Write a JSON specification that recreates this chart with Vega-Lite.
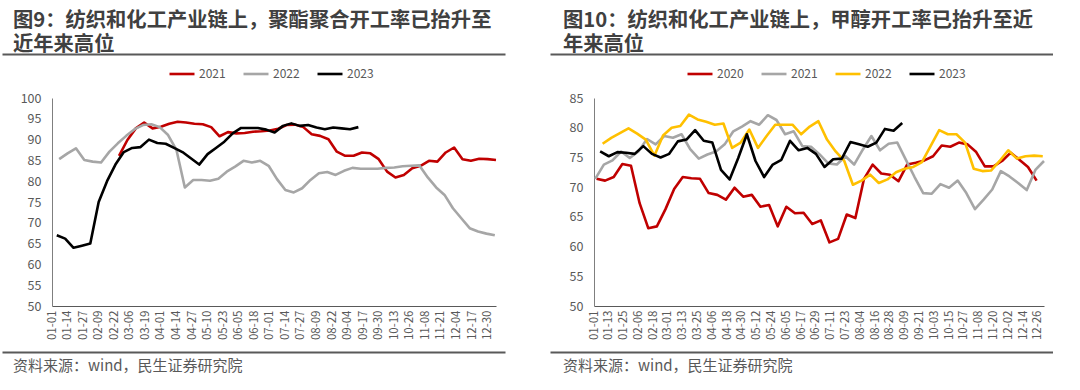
{
"$schema": "https://vega.github.io/schema/vega-lite/v6.json",
"background": "white",
"padding": {"left": 2, "top": 10, "right": 0, "bottom": 0},
"autosize": {"type": "pad"},
"config": {
  "font": "Noto Sans CJK SC",
  "view": {"stroke": null},
  "axis": {"grid": false, "ticks": false, "tickSize": 0, "labelColor": "#595959", "labelFont": "Noto Sans CJK SC", "domainColor": "#595959", "domainWidth": 1, "title": null, "labelOverlap": false, "labelFlush": false, "labelBound": false},
  "legend": {"labelFont": "Noto Sans CJK SC"}
},
"datasets": {
"left": [
{"s":"2021","d":57,"v":86.1},{"s":"2021","d":64,"v":89.9},{"s":"2021","d":71,"v":92.7},{"s":"2021","d":78,"v":94.1},{"s":"2021","d":85,"v":92.7},{"s":"2021","d":92,"v":93.1},{"s":"2021","d":99,"v":93.8},{"s":"2021","d":106,"v":94.3},{"s":"2021","d":113,"v":94.1},{"s":"2021","d":120,"v":93.8},{"s":"2021","d":127,"v":93.7},{"s":"2021","d":134,"v":93.0},{"s":"2021","d":141,"v":90.8},{"s":"2021","d":148,"v":91.8},{"s":"2021","d":155,"v":91.5},{"s":"2021","d":162,"v":91.6},{"s":"2021","d":169,"v":91.9},{"s":"2021","d":176,"v":92.0},{"s":"2021","d":183,"v":92.2},{"s":"2021","d":190,"v":92.6},{"s":"2021","d":197,"v":93.5},{"s":"2021","d":204,"v":93.6},{"s":"2021","d":211,"v":93.0},{"s":"2021","d":218,"v":91.3},{"s":"2021","d":225,"v":90.9},{"s":"2021","d":232,"v":90.1},{"s":"2021","d":239,"v":87.1},{"s":"2021","d":246,"v":86.1},{"s":"2021","d":253,"v":86.1},{"s":"2021","d":260,"v":86.9},{"s":"2021","d":267,"v":86.7},{"s":"2021","d":274,"v":85.3},{"s":"2021","d":281,"v":82.3},{"s":"2021","d":288,"v":80.9},{"s":"2021","d":295,"v":81.5},{"s":"2021","d":302,"v":83.1},{"s":"2021","d":309,"v":83.7},{"s":"2021","d":316,"v":84.9},{"s":"2021","d":323,"v":84.7},{"s":"2021","d":330,"v":86.9},{"s":"2021","d":337,"v":88.1},{"s":"2021","d":344,"v":85.3},{"s":"2021","d":351,"v":84.9},{"s":"2021","d":358,"v":85.4},{"s":"2021","d":365,"v":85.3},{"s":"2021","d":372,"v":85.1},
{"s":"2022","d":7,"v":85.3},{"s":"2022","d":14,"v":86.7},{"s":"2022","d":21,"v":87.9},{"s":"2022","d":28,"v":85.1},{"s":"2022","d":35,"v":84.7},{"s":"2022","d":42,"v":84.5},{"s":"2022","d":49,"v":87.1},{"s":"2022","d":56,"v":89.1},{"s":"2022","d":63,"v":90.9},{"s":"2022","d":70,"v":92.5},{"s":"2022","d":77,"v":93.5},{"s":"2022","d":84,"v":93.7},{"s":"2022","d":91,"v":93.0},{"s":"2022","d":98,"v":91.1},{"s":"2022","d":105,"v":87.5},{"s":"2022","d":112,"v":78.5},{"s":"2022","d":119,"v":80.3},{"s":"2022","d":126,"v":80.3},{"s":"2022","d":133,"v":80.1},{"s":"2022","d":140,"v":80.6},{"s":"2022","d":147,"v":82.3},{"s":"2022","d":154,"v":83.5},{"s":"2022","d":161,"v":84.9},{"s":"2022","d":168,"v":84.5},{"s":"2022","d":175,"v":84.9},{"s":"2022","d":182,"v":83.7},{"s":"2022","d":189,"v":80.5},{"s":"2022","d":196,"v":77.9},{"s":"2022","d":203,"v":77.3},{"s":"2022","d":210,"v":78.3},{"s":"2022","d":217,"v":80.3},{"s":"2022","d":224,"v":81.9},{"s":"2022","d":231,"v":82.2},{"s":"2022","d":238,"v":81.5},{"s":"2022","d":245,"v":82.5},{"s":"2022","d":252,"v":83.2},{"s":"2022","d":259,"v":83.0},{"s":"2022","d":266,"v":83.0},{"s":"2022","d":273,"v":83.0},{"s":"2022","d":280,"v":83.2},{"s":"2022","d":287,"v":83.3},{"s":"2022","d":294,"v":83.6},{"s":"2022","d":301,"v":83.7},{"s":"2022","d":308,"v":83.8},{"s":"2022","d":315,"v":80.9},{"s":"2022","d":322,"v":78.5},{"s":"2022","d":329,"v":76.7},{"s":"2022","d":336,"v":73.5},{"s":"2022","d":343,"v":71.1},{"s":"2022","d":350,"v":68.7},{"s":"2022","d":357,"v":67.9},{"s":"2022","d":364,"v":67.4},{"s":"2022","d":371,"v":67.0},
{"s":"2023","d":5,"v":67.0},{"s":"2023","d":12,"v":66.2},{"s":"2023","d":19,"v":64.0},{"s":"2023","d":26,"v":64.5},{"s":"2023","d":33,"v":65.0},{"s":"2023","d":40,"v":75.0},{"s":"2023","d":47,"v":80.0},{"s":"2023","d":54,"v":84.0},{"s":"2023","d":61,"v":87.0},{"s":"2023","d":68,"v":88.0},{"s":"2023","d":75,"v":88.2},{"s":"2023","d":82,"v":90.0},{"s":"2023","d":89,"v":89.2},{"s":"2023","d":96,"v":89.0},{"s":"2023","d":103,"v":88.0},{"s":"2023","d":110,"v":87.0},{"s":"2023","d":117,"v":85.5},{"s":"2023","d":124,"v":84.0},{"s":"2023","d":131,"v":86.5},{"s":"2023","d":138,"v":88.0},{"s":"2023","d":145,"v":89.5},{"s":"2023","d":152,"v":91.5},{"s":"2023","d":159,"v":92.8},{"s":"2023","d":166,"v":92.8},{"s":"2023","d":173,"v":92.8},{"s":"2023","d":180,"v":92.4},{"s":"2023","d":187,"v":91.7},{"s":"2023","d":194,"v":93.3},{"s":"2023","d":201,"v":93.9},{"s":"2023","d":208,"v":93.3},{"s":"2023","d":215,"v":93.5},{"s":"2023","d":222,"v":92.9},{"s":"2023","d":229,"v":92.5},{"s":"2023","d":236,"v":92.9},{"s":"2023","d":243,"v":92.7},{"s":"2023","d":250,"v":92.5},{"s":"2023","d":257,"v":93.0}
],
"right": [
{"s":"2020","d":3,"v":71.4},{"s":"2020","d":10,"v":71.1},{"s":"2020","d":17,"v":71.7},{"s":"2020","d":24,"v":73.9},{"s":"2020","d":31,"v":73.6},{"s":"2020","d":38,"v":67.3},{"s":"2020","d":45,"v":63.1},{"s":"2020","d":52,"v":63.4},{"s":"2020","d":59,"v":66.3},{"s":"2020","d":66,"v":69.7},{"s":"2020","d":73,"v":71.7},{"s":"2020","d":80,"v":71.5},{"s":"2020","d":87,"v":71.4},{"s":"2020","d":94,"v":69.0},{"s":"2020","d":101,"v":68.7},{"s":"2020","d":108,"v":67.9},{"s":"2020","d":115,"v":69.9},{"s":"2020","d":122,"v":68.4},{"s":"2020","d":129,"v":68.7},{"s":"2020","d":136,"v":66.7},{"s":"2020","d":143,"v":67.0},{"s":"2020","d":150,"v":63.4},{"s":"2020","d":157,"v":66.7},{"s":"2020","d":164,"v":65.6},{"s":"2020","d":171,"v":65.7},{"s":"2020","d":178,"v":63.8},{"s":"2020","d":185,"v":64.4},{"s":"2020","d":192,"v":60.7},{"s":"2020","d":199,"v":61.3},{"s":"2020","d":206,"v":65.4},{"s":"2020","d":213,"v":64.8},{"s":"2020","d":220,"v":71.4},{"s":"2020","d":227,"v":73.8},{"s":"2020","d":234,"v":72.3},{"s":"2020","d":241,"v":72.1},{"s":"2020","d":248,"v":71.0},{"s":"2020","d":255,"v":73.8},{"s":"2020","d":262,"v":74.1},{"s":"2020","d":269,"v":74.5},{"s":"2020","d":276,"v":75.2},{"s":"2020","d":283,"v":77.0},{"s":"2020","d":290,"v":76.8},{"s":"2020","d":297,"v":77.5},{"s":"2020","d":304,"v":77.2},{"s":"2020","d":311,"v":75.9},{"s":"2020","d":318,"v":73.5},{"s":"2020","d":325,"v":73.5},{"s":"2020","d":332,"v":74.4},{"s":"2020","d":339,"v":75.8},{"s":"2020","d":346,"v":74.6},{"s":"2020","d":353,"v":73.4},{"s":"2020","d":360,"v":71.1},
{"s":"2021","d":2,"v":71.4},{"s":"2021","d":9,"v":73.8},{"s":"2021","d":16,"v":74.5},{"s":"2021","d":23,"v":76.0},{"s":"2021","d":30,"v":74.9},{"s":"2021","d":37,"v":76.0},{"s":"2021","d":44,"v":78.1},{"s":"2021","d":51,"v":77.2},{"s":"2021","d":58,"v":78.6},{"s":"2021","d":65,"v":78.3},{"s":"2021","d":72,"v":78.9},{"s":"2021","d":79,"v":76.4},{"s":"2021","d":86,"v":74.8},{"s":"2021","d":93,"v":75.5},{"s":"2021","d":100,"v":76.0},{"s":"2021","d":107,"v":77.2},{"s":"2021","d":114,"v":79.4},{"s":"2021","d":121,"v":80.2},{"s":"2021","d":128,"v":81.1},{"s":"2021","d":135,"v":80.5},{"s":"2021","d":142,"v":82.1},{"s":"2021","d":149,"v":81.3},{"s":"2021","d":156,"v":78.9},{"s":"2021","d":163,"v":79.4},{"s":"2021","d":170,"v":76.9},{"s":"2021","d":177,"v":76.8},{"s":"2021","d":184,"v":75.5},{"s":"2021","d":191,"v":74.0},{"s":"2021","d":198,"v":73.8},{"s":"2021","d":205,"v":75.2},{"s":"2021","d":212,"v":73.8},{"s":"2021","d":219,"v":76.3},{"s":"2021","d":226,"v":78.6},{"s":"2021","d":233,"v":76.2},{"s":"2021","d":240,"v":77.3},{"s":"2021","d":247,"v":77.5},{"s":"2021","d":254,"v":74.6},{"s":"2021","d":261,"v":71.7},{"s":"2021","d":268,"v":69.0},{"s":"2021","d":275,"v":68.9},{"s":"2021","d":282,"v":70.5},{"s":"2021","d":289,"v":69.9},{"s":"2021","d":296,"v":71.1},{"s":"2021","d":303,"v":69.0},{"s":"2021","d":310,"v":66.3},{"s":"2021","d":317,"v":67.9},{"s":"2021","d":324,"v":69.6},{"s":"2021","d":331,"v":72.7},{"s":"2021","d":338,"v":71.8},{"s":"2021","d":345,"v":70.7},{"s":"2021","d":352,"v":69.5},{"s":"2021","d":359,"v":72.9},{"s":"2021","d":366,"v":74.4},
{"s":"2022","d":8,"v":77.3},{"s":"2022","d":15,"v":78.3},{"s":"2022","d":22,"v":79.1},{"s":"2022","d":29,"v":79.9},{"s":"2022","d":36,"v":79.0},{"s":"2022","d":43,"v":78.0},{"s":"2022","d":50,"v":75.3},{"s":"2022","d":57,"v":78.7},{"s":"2022","d":64,"v":80.0},{"s":"2022","d":71,"v":80.3},{"s":"2022","d":78,"v":82.2},{"s":"2022","d":85,"v":81.4},{"s":"2022","d":92,"v":81.0},{"s":"2022","d":99,"v":80.5},{"s":"2022","d":106,"v":80.7},{"s":"2022","d":113,"v":76.6},{"s":"2022","d":120,"v":77.5},{"s":"2022","d":127,"v":79.7},{"s":"2022","d":134,"v":76.6},{"s":"2022","d":141,"v":78.6},{"s":"2022","d":148,"v":80.5},{"s":"2022","d":155,"v":80.5},{"s":"2022","d":162,"v":80.5},{"s":"2022","d":169,"v":78.9},{"s":"2022","d":176,"v":80.2},{"s":"2022","d":183,"v":81.1},{"s":"2022","d":190,"v":78.0},{"s":"2022","d":197,"v":76.0},{"s":"2022","d":204,"v":74.4},{"s":"2022","d":211,"v":70.4},{"s":"2022","d":218,"v":71.1},{"s":"2022","d":225,"v":72.1},{"s":"2022","d":232,"v":70.7},{"s":"2022","d":239,"v":71.3},{"s":"2022","d":246,"v":72.5},{"s":"2022","d":253,"v":73.1},{"s":"2022","d":260,"v":73.4},{"s":"2022","d":267,"v":74.2},{"s":"2022","d":274,"v":76.9},{"s":"2022","d":281,"v":79.6},{"s":"2022","d":288,"v":78.9},{"s":"2022","d":295,"v":78.9},{"s":"2022","d":302,"v":77.5},{"s":"2022","d":309,"v":73.1},{"s":"2022","d":316,"v":72.7},{"s":"2022","d":323,"v":72.8},{"s":"2022","d":330,"v":74.4},{"s":"2022","d":337,"v":76.2},{"s":"2022","d":344,"v":74.8},{"s":"2022","d":351,"v":75.2},{"s":"2022","d":358,"v":75.3},{"s":"2022","d":365,"v":75.2},
{"s":"2023","d":6,"v":76.0},{"s":"2023","d":13,"v":75.2},{"s":"2023","d":20,"v":75.9},{"s":"2023","d":27,"v":75.8},{"s":"2023","d":34,"v":75.6},{"s":"2023","d":41,"v":76.9},{"s":"2023","d":48,"v":75.6},{"s":"2023","d":55,"v":75.0},{"s":"2023","d":62,"v":75.6},{"s":"2023","d":69,"v":77.7},{"s":"2023","d":76,"v":78.0},{"s":"2023","d":83,"v":79.6},{"s":"2023","d":90,"v":77.8},{"s":"2023","d":97,"v":77.5},{"s":"2023","d":104,"v":72.9},{"s":"2023","d":111,"v":71.3},{"s":"2023","d":118,"v":74.9},{"s":"2023","d":125,"v":78.9},{"s":"2023","d":132,"v":74.4},{"s":"2023","d":139,"v":71.7},{"s":"2023","d":146,"v":73.8},{"s":"2023","d":153,"v":74.6},{"s":"2023","d":160,"v":77.8},{"s":"2023","d":167,"v":76.2},{"s":"2023","d":174,"v":76.6},{"s":"2023","d":181,"v":75.6},{"s":"2023","d":188,"v":73.4},{"s":"2023","d":195,"v":74.7},{"s":"2023","d":202,"v":74.8},{"s":"2023","d":209,"v":77.6},{"s":"2023","d":216,"v":77.2},{"s":"2023","d":223,"v":76.8},{"s":"2023","d":230,"v":77.5},{"s":"2023","d":237,"v":79.8},{"s":"2023","d":244,"v":79.5},{"s":"2023","d":251,"v":80.8}
],
"blank": [{"t": "", "x": 0}]
},
"hconcat": [
{
  "vconcat": [
    {
      "width": 503, "height": 30,
      "data": {"name": "blank"},
      "mark": {"type": "text", "fontSize": 0},
      "encoding": {
        "x": {"field": "x", "type": "quantitative", "scale": {"domain": [0, 1]}, "axis": {"orient": "top", "labels": false, "ticks": false, "domainWidth": 2, "domainColor": "#595959", "minExtent": 0}},
        "y": {"value": 0},
        "text": {"field": "t", "type": "nominal"}
      },
      "title": {"text": ["图9：纺织和化工产业链上，聚酯聚合开工率已抬升至", "近年来高位"], "anchor": "start", "dx": 11, "fontSize": 20.3, "fontWeight": "bold", "color": "#404040", "lineHeight": 24, "offset": -1, "font": "Noto Sans CJK SC"}
    },
    {
      "width": 494, "height": 208,
      "data": {"name": "left"},
      "mark": {"type": "line", "strokeJoin": "round"},
      "encoding": {
        "x": {"field": "d", "type": "quantitative", "scale": {"domain": [1, 372], "range": [50, 494], "nice": false, "zero": false},
          "axis": {"values": [1,14,27,40,53,66,79,92,105,118,131,144,157,170,183,196,209,222,235,248,261,274,287,300,313,326,339,352,365],
            "labelExpr": "timeFormat(datetime(2020, 0, datum.value), '%m-%d')", "labelAngle": 270, "labelFontSize": 11.5, "labelPadding": 4, "minExtent": 38, "maxExtent": 38}},
        "y": {"field": "v", "type": "quantitative", "scale": {"domain": [50, 100], "nice": false, "zero": false},
          "axis": {"values": [50,55,60,65,70,75,80,85,90,95,100], "labelFontSize": 12.5, "labelPadding": 11, "offset": -50, "domainColor": "#7f7f7f"}},
        "color": {"field": "s", "type": "nominal", "scale": {"domain": ["2021", "2022", "2023"], "range": ["#C00000", "#A6A6A6", "#000000"]},
          "legend": {"orient": "none", "legendX": 166, "legendY": 6, "direction": "horizontal", "title": null, "symbolType": "stroke", "symbolSize": 625, "symbolStrokeWidth": 3, "labelFontSize": 12, "labelColor": "#595959", "columnPadding": 12, "labelOffset": 3}},
        "strokeWidth": {"field": "s", "type": "ordinal", "scale": {"domain": ["2021", "2022", "2023"], "range": [2.6, 2.6, 3.6]}, "legend": null}
      }
    },
    {
      "width": 503, "height": 1,
      "data": {"name": "blank"},
      "mark": {"type": "text", "fontSize": 0},
      "encoding": {
        "x": {"field": "x", "type": "quantitative", "scale": {"domain": [0, 1]}, "axis": {"orient": "top", "labels": false, "ticks": false, "domainWidth": 2, "domainColor": "#595959", "minExtent": 0}},
        "y": {"value": 0},
        "text": {"field": "t", "type": "nominal"}
      },
      "title": {"text": "资料来源：wind，民生证券研究院", "orient": "bottom", "anchor": "start", "dx": 11, "fontSize": 15, "fontWeight": "normal", "color": "#595959", "offset": 6, "font": "Noto Sans CJK SC"}
    }
  ],
  "spacing": 8,
  "resolve": {"scale": {"x": "independent", "y": "independent"}}
},
{
  "vconcat": [
    {
      "width": 503, "height": 30,
      "data": {"name": "blank"},
      "mark": {"type": "text", "fontSize": 0},
      "encoding": {
        "x": {"field": "x", "type": "quantitative", "scale": {"domain": [0, 1]}, "axis": {"orient": "top", "labels": false, "ticks": false, "domainWidth": 2, "domainColor": "#595959", "minExtent": 0}},
        "y": {"value": 0},
        "text": {"field": "t", "type": "nominal"}
      },
      "title": {"text": ["图10：纺织和化工产业链上，甲醇开工率已抬升至近", "年来高位"], "anchor": "start", "dx": 13, "fontSize": 20.3, "fontWeight": "bold", "color": "#404040", "lineHeight": 24, "offset": -1, "font": "Noto Sans CJK SC"}
    },
    {
      "width": 494, "height": 208,
      "data": {"name": "right"},
      "mark": {"type": "line", "strokeJoin": "round"},
      "encoding": {
        "x": {"field": "d", "type": "quantitative", "scale": {"domain": [1, 366], "range": [44, 494], "nice": false, "zero": false},
          "axis": {"values": [1,13,25,37,49,61,73,85,97,109,121,133,145,157,169,181,193,205,217,229,241,253,265,277,289,301,313,325,337,349,361],
            "labelExpr": "timeFormat(datetime(2020, 0, datum.value), '%m-%d')", "labelAngle": 270, "labelFontSize": 11.5, "labelPadding": 4, "minExtent": 38, "maxExtent": 38}},
        "y": {"field": "v", "type": "quantitative", "scale": {"domain": [50, 85], "nice": false, "zero": false},
          "axis": {"values": [50,55,60,65,70,75,80,85], "labelFontSize": 12.5, "labelPadding": 11, "offset": -44, "domainColor": "#7f7f7f"}},
        "color": {"field": "s", "type": "nominal", "scale": {"domain": ["2020", "2021", "2022", "2023"], "range": ["#C00000", "#A6A6A6", "#FFC000", "#000000"]},
          "legend": {"orient": "none", "legendX": 136, "legendY": 6, "direction": "horizontal", "title": null, "symbolType": "stroke", "symbolSize": 625, "symbolStrokeWidth": 3, "labelFontSize": 12, "labelColor": "#595959", "columnPadding": 12, "labelOffset": 3}},
        "strokeWidth": {"field": "s", "type": "ordinal", "scale": {"domain": ["2020", "2021", "2022", "2023"], "range": [2.6, 2.6, 2.6, 3.6]}, "legend": null}
      }
    },
    {
      "width": 503, "height": 1,
      "data": {"name": "blank"},
      "mark": {"type": "text", "fontSize": 0},
      "encoding": {
        "x": {"field": "x", "type": "quantitative", "scale": {"domain": [0, 1]}, "axis": {"orient": "top", "labels": false, "ticks": false, "domainWidth": 2, "domainColor": "#595959", "minExtent": 0}},
        "y": {"value": 0},
        "text": {"field": "t", "type": "nominal"}
      },
      "title": {"text": "资料来源：wind，民生证券研究院", "orient": "bottom", "anchor": "start", "dx": 13, "fontSize": 15, "fontWeight": "normal", "color": "#595959", "offset": 6, "font": "Noto Sans CJK SC"}
    }
  ],
  "spacing": 8,
  "resolve": {"scale": {"x": "independent", "y": "independent"}}
}
],
"spacing": 45,
"resolve": {"scale": {"color": "independent", "strokeWidth": "independent"}, "legend": {"color": "independent"}}
}
